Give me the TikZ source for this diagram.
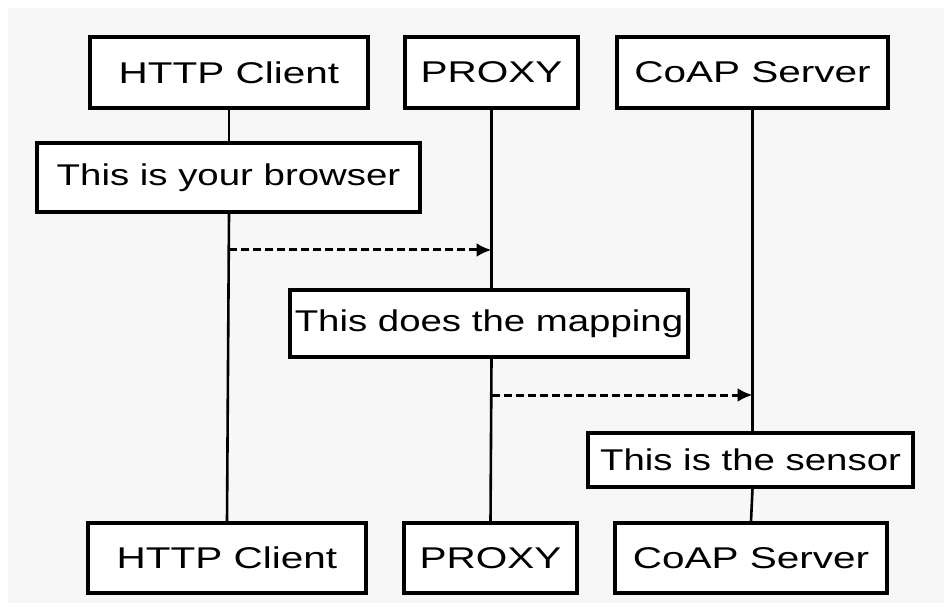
\documentclass[tikz,border=0pt]{standalone}
\usepackage{fontspec}
\setmainfont{Liberation Sans}
\usepackage{graphicx}
\usetikzlibrary{arrows.meta}
\newcommand{\hwtext}[1]{\scalebox{1.35}[1]{#1}}
\newcommand{\hwnote}[1]{\scalebox{1.28}[1]{#1}}
\begin{document}
\begin{tikzpicture}[x=1pt,y=-1pt,
  box/.style={draw=black, line width=3.2pt, fill=white, inner sep=0pt, font=\fontsize{30}{36}\selectfont},
  life/.style={line width=2.6pt},
  msg/.style={line width=3pt, dash pattern=on 8pt off 4pt, -{Latex[length=15pt,width=14pt]}}]
\fill[white] (0,0) rectangle (944,609);
\fill[black!3] (8,8) rectangle (944,603);
\useasboundingbox (0,0) rectangle (944,609);
% top participants
\node[box, minimum width=278pt, minimum height=71pt] (ht) at (229,72.5) {\hwtext{HTTP Client}};
\node[box, minimum width=173pt, minimum height=71pt] (pt) at (491.5,72.5) {\hwtext{PROXY}};
\node[box, minimum width=271pt, minimum height=71pt] (ct) at (752.5,72.5) {\hwtext{CoAP Server}};
% bottom participants
\node[box, minimum width=278pt, minimum height=70pt] (hb) at (227,558) {\hwtext{HTTP Client}};
\node[box, minimum width=173pt, minimum height=70pt] (pb) at (490.5,558) {\hwtext{PROXY}};
\node[box, minimum width=272pt, minimum height=70pt] (cb) at (751,558) {\hwtext{CoAP Server}};
% notes
\node[box, minimum width=383pt, minimum height=69pt] (n1) at (228.5,177.5) {\hwnote{This is your browser}};
\node[box, minimum width=398pt, minimum height=67pt] (n2) at (489,323.5) {\hwnote{This does the mapping}};
\node[box, minimum width=325pt, minimum height=54pt] (n3) at (750.5,460) {\hwnote{This is the sensor}};
% lifelines
\draw[life] (ht.south) -- (ht.south |- n1.north);
\draw[life] (ht.south |- n1.south) -- (hb.north);
\draw[life] (pt.south) -- (pt.south |- n2.north);
\draw[life] (pt.south |- n2.south) -- (pb.north);
\draw[life] (ct.south) -- (ct.south |- n3.north);
\draw[life] (ct.south |- n3.south) -- (cb.north);
% messages
\coordinate (m1) at (0,250);
\coordinate (m2) at (0,395);
\draw[msg] (ht.south |- m1) -- (pt.south |- m1);
\draw[msg] (pt.south |- m2) -- (ct.south |- m2);
\end{tikzpicture}
\end{document}
